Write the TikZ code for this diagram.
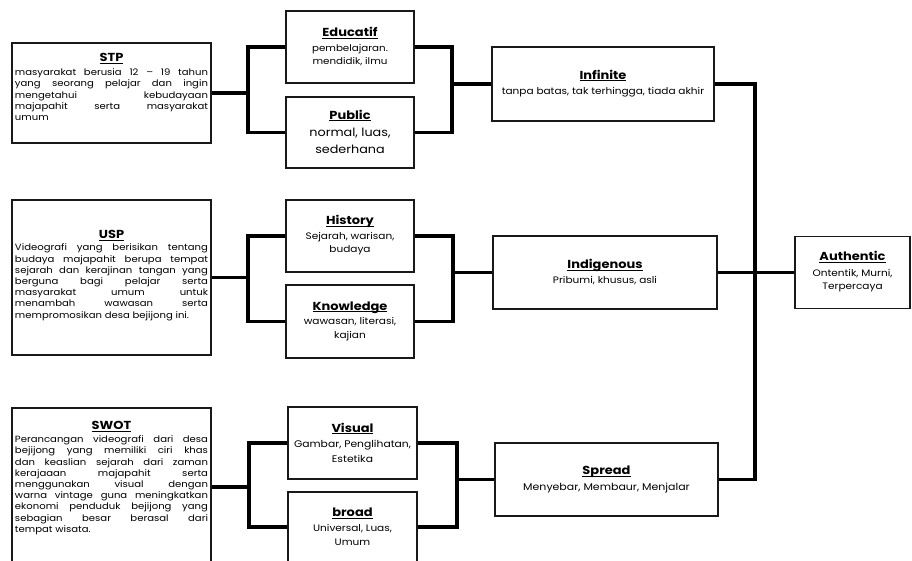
\documentclass[tikz,border=0pt]{standalone}
\usepackage{fontspec}
\setmainfont{Poppins}[FakeStretch=1.12]
\usetikzlibrary{positioning}

\newcommand{\boxtitle}[1]{{\fontsize{11.6}{13}\selectfont\bfseries\underline{\smash{#1}\vphantom{A}}}}

\tikzset{
  card/.style={draw=black!90, line width=1.6pt, fill=white, inner sep=0pt,
    align=center, font=\fontsize{9.4}{13.6}\selectfont},
  midbox/.style={card, minimum width=128pt, minimum height=72pt},
  widebox/.style={card, minimum width=223pt, minimum height=73pt},
  infobox/.style={draw=black!90, line width=1.6pt, fill=white, inner sep=0pt,
    text width=193pt, minimum width=199pt, align=justify,
    font=\fontsize{9}{11.2}\selectfont},
  link/.style={line width=3.4pt}
}

\begin{document}
\begin{tikzpicture}[x=1pt, y=-1pt]
  \useasboundingbox (0,0) rectangle (912,561);
  \clip (0,0) rectangle (912,561);

  % left column
  \node[infobox, minimum height=100pt] (stp) at (111.5,93) {{\centering\boxtitle{STP}\par}\vspace{3pt}
    masyarakat berusia 12 – 19 tahun\linebreak
    yang seorang pelajar dan ingin\linebreak
    mengetahui kebudayaan\linebreak
    majapahit serta masyarakat\linebreak
    umum\par\vspace*{1pt}\hbox{}};
  \node[infobox, minimum height=155pt] (usp) at (111.5,277.5) {{\centering\boxtitle{USP}\par}\vspace{1pt}
    Videografi yang berisikan tentang\linebreak
    budaya majapahit berupa tempat\linebreak
    sejarah dan kerajinan tangan yang\linebreak
    berguna bagi pelajar serta\linebreak
    masyarakat umum untuk\linebreak
    menambah wawasan serta\linebreak
    \mbox{mempromosikan desa bejijong ini.}\par\vspace*{-5pt}\hbox{}};
  \node[infobox, minimum height=158pt] (swot) at (111.5,487) {{\centering\boxtitle{SWOT}\par}\vspace{2pt}
    Perancangan videografi dari desa\linebreak
    bejijong yang memiliki ciri khas\linebreak
    dan keaslian sejarah dari zaman\linebreak
    kerajaaan majapahit serta\linebreak
    menggunakan visual dengan\linebreak
    warna vintage guna meningkatkan\linebreak
    ekonomi penduduk bejijong yang\linebreak
    sebagian besar berasal dari\linebreak
    tempat wisata.\par\vspace*{9pt}\hbox{}};

  % middle column
  \node[midbox, font=\fontsize{9.2}{12.6}\selectfont] (edu) at (350,47)
    {\boxtitle{Educatif}\\[3pt] pembelajaran.\\ mendidik, ilmu};
  \node[midbox, minimum height=71pt, font=\fontsize{11.4}{17.4}\selectfont] (pub) at (350,132.5)
    {\boxtitle{Public}\\ normal, luas,\\ sederhana};
  \node[midbox] (his) at (350,236) {\boxtitle{History}\\[1pt] Sejarah, warisan,\\ budaya};
  \node[midbox, minimum height=73pt] (kno) at (350,321.5) {\boxtitle{Knowledge}\\[1pt] wawasan, literasi,\\ kajian};
  \node[midbox, minimum width=129pt, font=\fontsize{9.6}{15}\selectfont] (vis) at (352.5,443)
    {\boxtitle{Visual}\\ Gambar, Penglihatan,\\ Estetika};
  \node[midbox, minimum width=129pt, minimum height=70pt] (bro) at (352.5,527)
    {\boxtitle{broad}\\[1pt] Universal, Luas,\\ Umum};

  % right column
  \node[widebox, minimum width=222pt, minimum height=74pt, font=\fontsize{9.4}{15}\selectfont] (inf) at (603,84)
    {\boxtitle{Infinite}\\ tanpa batas, tak terhingga, tiada akhir};
  \node[widebox, minimum width=224pt, font=\fontsize{9.4}{15}\selectfont] (ind) at (605,272.5)
    {\boxtitle{Indigenous}\\ Pribumi, khusus, asli};
  \node[widebox, font=\fontsize{9.8}{15.5}\selectfont] (spr) at (606.5,479.5)
    {\boxtitle{Spread}\\ Menyebar, Membaur, Menjalar};
  \node[card, minimum width=115pt, minimum height=72pt] (auth) at (852.5,272.5)
    {\boxtitle{Authentic}\\[2pt] Ontentik, Murni,\\ Terpercaya};

  % brackets
  \coordinate (sl) at (248,93);
  \coordinate (sr) at (452,84);
  \coordinate (ul) at (248,277.5);
  \coordinate (ur) at (453,272.5);
  \coordinate (wl) at (249,487);
  \coordinate (wr) at (457,479.5);
  \coordinate (jn) at (755,272.5);

  \draw[link] (stp.east) -- (sl);
  \draw[link] (edu.west) -| (sl) |- (pub.west);
  \draw[link] (edu.east) -| (sr) |- (pub.east);
  \draw[link] (sr) -- (inf.west);

  \draw[link] (usp.east) -- (ul);
  \draw[link] (his.west) -| (ul) |- (kno.west);
  \draw[link] (his.east) -| (ur) |- (kno.east);
  \draw[link] (ur) -- (ind.west);

  \draw[link] (swot.east) -- (wl);
  \draw[link] (vis.west) -| (wl) |- (bro.west);
  \draw[link] (vis.east) -| (wr) |- (bro.east);
  \draw[link] (wr) -- (spr.west);

  % joining to authentic
  \draw[link] (inf.east) -| (jn) |- (spr.east);
  \draw[link] (ind.east) -- (jn) -- (auth.west);
\end{tikzpicture}
\end{document}
